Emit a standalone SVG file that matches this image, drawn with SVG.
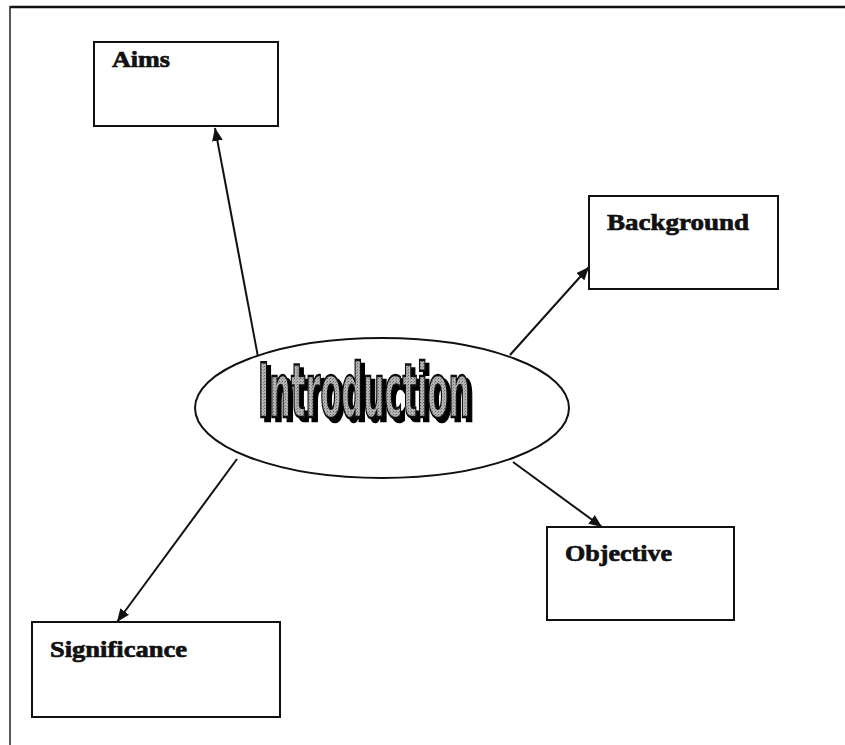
<svg xmlns="http://www.w3.org/2000/svg" width="845" height="745" viewBox="0 0 845 745">
<defs>
<style>
.box{fill:#fff;stroke:#111;stroke-width:2}
.lbl{font-family:"Liberation Serif","Times New Roman",serif;font-weight:bold;font-size:24px;fill:#111;stroke:#111;stroke-width:0.7}
.conn{stroke:#111;stroke-width:2;fill:none;marker-end:url(#ah)}
.title{font-family:"Liberation Sans Narrow","DejaVu Sans Condensed","Liberation Sans",sans-serif;font-weight:bold;font-size:74px}
</style>
<marker id="ah" viewBox="0 0 12 10" refX="12" refY="5" markerWidth="13" markerHeight="11" markerUnits="userSpaceOnUse" orient="auto">
<path d="M0,0 L12,5 L0,10 Z" fill="#111"/>
</marker>
<pattern id="dots" width="3" height="3" patternUnits="userSpaceOnUse">
<rect width="3" height="3" fill="#b4b4b4"/>
<rect width="1" height="1" fill="#666"/>
<rect x="2" y="1" width="1" height="1" fill="#888"/>
</pattern>
<filter id="shadow" x="-10%" y="-20%" width="130%" height="150%">
<feOffset in="SourceAlpha" dx="4" dy="4" result="off"/>
<feComponentTransfer in="off" result="sh"><feFuncA type="linear" slope="1"/></feComponentTransfer>
<feMerge><feMergeNode in="sh"/><feMergeNode in="SourceGraphic"/></feMerge>
</filter>
</defs>
<rect width="845" height="745" fill="#fff"/>
<g id="frame">
<line x1="10" y1="7" x2="845" y2="7" stroke="#111" stroke-width="2.5"/>
<line x1="10" y1="6" x2="10" y2="745" stroke="#222" stroke-width="1.5"/>
</g>
<g id="connectors">
<line class="conn" x1="258" y1="357" x2="215" y2="128"/>
<line class="conn" x1="510" y1="355" x2="589" y2="267"/>
<line class="conn" x1="513" y1="462" x2="602" y2="527"/>
<line class="conn" x1="237" y1="459" x2="117" y2="622"/>
</g>
<g id="aims">
<rect class="box" x="94" y="42" width="184" height="84"/>
<text class="lbl" x="112" y="67" textLength="58" lengthAdjust="spacingAndGlyphs">Aims</text>
</g>
<g id="background">
<rect class="box" x="589" y="196" width="189" height="93"/>
<text class="lbl" x="607" y="230" textLength="142" lengthAdjust="spacingAndGlyphs">Background</text>
</g>
<g id="objective">
<rect class="box" x="547" y="527" width="187" height="93"/>
<text class="lbl" x="565" y="561" textLength="107" lengthAdjust="spacingAndGlyphs">Objective</text>
</g>
<g id="significance">
<rect class="box" x="32" y="622" width="248" height="95"/>
<text class="lbl" x="50" y="657" textLength="137" lengthAdjust="spacingAndGlyphs">Significance</text>
</g>
<g id="introduction">
<ellipse cx="382" cy="408" rx="187" ry="70" fill="#fff" stroke="#111" stroke-width="2"/>
<text class="title" x="258" y="417" textLength="212" lengthAdjust="spacingAndGlyphs" fill="url(#dots)" stroke="#111" stroke-width="2.5" filter="url(#shadow)">Introduction</text>
</g>
</svg>
